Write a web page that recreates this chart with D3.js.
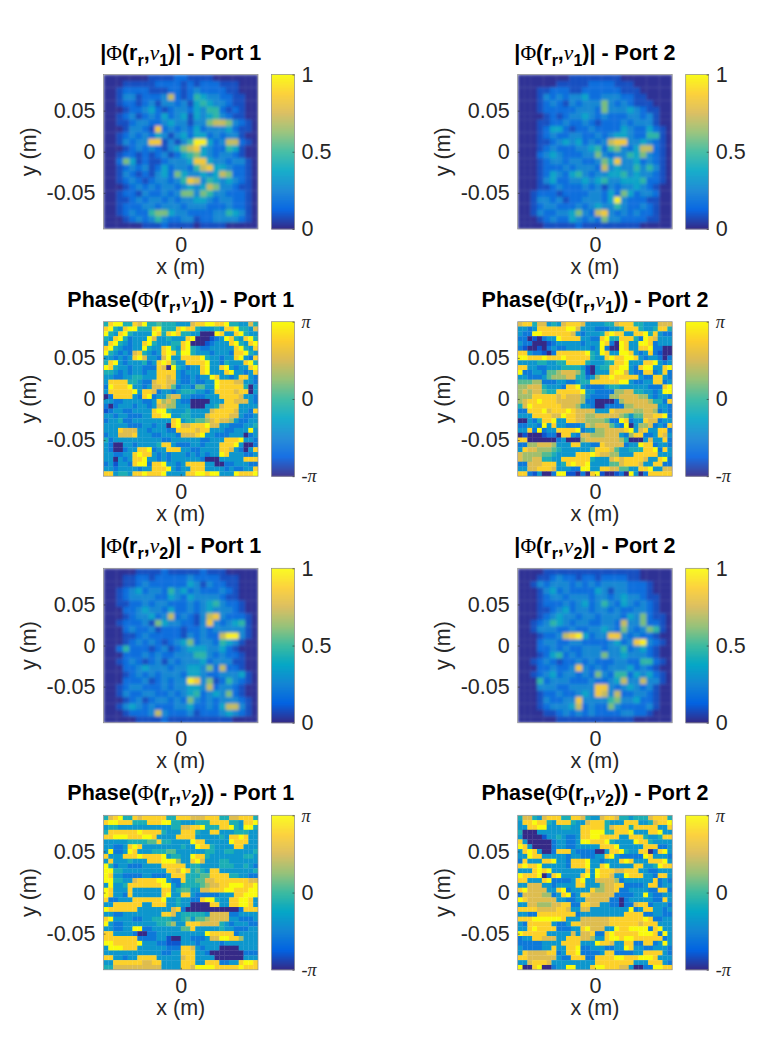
<!DOCTYPE html>
<html>
<head>
<meta charset="utf-8">
<script src="https://cdn.jsdelivr.net/npm/d3@7"></script>
<style>
  html,body{margin:0;padding:0;background:#fff;}
  svg{display:block;}
</style>
</head>
<body>
<div id="chart"></div>
<script>
// values, one digit per cell, 0 = bottom of the colorbar, 9 = top
const ampNu1Port1 = [
"000000011112211110000000","000111112222121222111000","001222211122123222211000","001331222372125433221100",
"001221231332314543321100","000122342123324355212100","001231232423414345321100","001123322343313367763210",
"000133218232324233342110","001232324313424423233100","001323388131359942377210","000123232134678432254100",
"001221212312456432332100","002641211233348843323310","001232312423325784432210","001321213426433434762210",
"001232123323587354343210","000123232332343476332110","001221322323663653322210","001123233232334432332210",
"001222332333233322232210","001232256643322223354310","000123235322331223333210","000000111211110111100000"];
const ampNu1Port2 = [
"000000001111111100000000","000000111112222111000000","000112221122222211100000","000132323342233322110000",
"000123213233363232111000","000122222333263334321100","000012123343232223323100","000112232232122232333100",
"000124421223222243224210","000123223322323443225510","000112343423237883343210","000123222334525632477210",
"000234322233632335463210","000123323322364833423210","000122232333273433535310","000124324532334453433210",
"000134223343453344452210","000112322232313233432100","001222122223324264233200","001332312233324932221100",
"001233222323433532232100","001322334632783232322100","000123224323263322221100","000011111211111111100000"];
const ampNu2Port1 = [
"000001111211111211100000","000112212222232222111000","000112322222243132211000","001234233253423222321000",
"001233332243243333211000","001122323322232345322100","000223433242232343332100","000123342372321378322210",
"001222316433221383234510","000232231222122323333310","000112322222132322799310","000123232123462332543100",
"002522212312344433421000","000222323223335532322100","001232123132333423331100","000223433323344362722100",
"000123232333244322333410","000222312323398361253210","001233222323344372332100","001322332232345234362100",
"000123123323263232333210","001343232223342232477310","000122237322231222343210","000001111211111111110000"];
const ampNu2Port2 = [
"000011111111111111100000","000112322122122221100000","001323332323233332221000","000134232222431332221000",
"000123323332332343321100","000122232342353243232100","000112342332332322332100","000123433233233324362110",
"001235432332233273362210","001333223223343263236510","000122378942338832322100","000233223322223423893210",
"000223232233323352342100","000124523233363343332100","001232122323222332255210","000223223832323334232100",
"001234233232632552434210","000523332223223473373310","000333223333883234323100","000122322343873722332100",
"000132233833335633422100","000123334723226322223100","000011232323222233221000","000000111111111111000000"];
const phaseNu1Port1 = [
"48994487944544433378899889443374","89438994448944489884333438894437","94389433339848984433000983389433","43894233397334333890001239843894",
"38943233894333448900012333894389","89432233943389438943223333389438","94323278432389849943332333288943","33232389733279338888943323389328",
"48932333423898533888893324333894","98433233222870943233893389323389","44323233233888832333893338933238","33223344333887832232339833238832",
"38888443227887732232233988877332","29888933237787523325533988888403","38888893887233234443323888878803","02888832892336773322233388887332",
"33223333223867632200003338877732","20233323323776633300033478883333","12332233338994333433337888873328","33233222338899334433378888773223",
"23342233333333893445567877632233","33333222332330897788897733222334","33387773323332288887883332233393","23377783332233327778933222333023",
"42333333333322333333223338889332","32003323333488322233233388893002","32002338892338883322333388732038","33223389883232333232323398333223",
"33032388933232333333200033333888","23133289928893323888833002233322","33233332338889323388833332322338","88344388988893333889989933398889"];
const phaseNu1Port2 = [
"78847734378887333344788844333777","33238888889973332223348884334884","32299888888732333489883388948322","22010233988883322894488842987333",
"32200012333332333982098339982333","21001023223333323920098338892200","88322102888888943983399832382100","99888988898888843389889983233202",
"33334433448888433344889333889323","88332233344443103448899328993389","92233255677764103338997322882382","33222356667744236889888883228832",
"55566222332234488888899322338823","66777433328893222234433333322289","67677544888889332222667744332399","66688888787776322226677776632332",
"67889888777776220000267777764428","47988888877763320022226677777332","22888978889877773338777766776232","33388887798877667777765355778892",
"00324889338877666652298233877233","22332938332223767775329036672328","33829233888892336677778937833882","01000122088327766677732688223873",
"88000000230006777777764000373382","22667776333883322877772339882332","38776665433333358887533444889283","76666554333388898776633388888333",
"76677443388888843337878888733892","22777888348988933335578887338822","33778887333229933887755338893377","88213002991102089100120930288888"];
const phaseNu2Port1 = [
"47894487888884488877788844778884","89988844488899443334448888443889","34433333333333447788944488943994","48888889888843338884338833344433",
"88999888998333388883333343889833","33333444455844333398833333988833","33223898333333334339884333388333","39223983334445533333344334433334",
"83338889888893443398843333333443","38333433388899963389733344333333","94233222333388888344333344433432","99443333333338879845438833333334",
"98332222332223888444558888443322","99443378888993228445577888888877","39334888888899324444567788999889","98333833333388345533778889988899",
"98332833333389338832222233388999","82233388888893343322899433889983","33888888338883343300008833889983","98888883333333782000000000002888",
"33223333333388734444437777223333","89333322334444334535567777332223","93223333333445633888777743233322","33223399223333335583333343322233",
"88333320022333333333398888823333","88888882222331003322237799886333","99888889333221113332333323333333","39998883333332228873233300003333",
"33333333333322338883320000000222","88332338888333337883333000000333","33888888778833338883388822338998","44777777777733338879999888889888"];
const phaseNu2Port2 = [
"47743788844887433788744344478884","38898843888433788843338883347889","33889933344338888847888488888338","40003333333338899944888933388933",
"30000133432238899888833888433488","83000002332239988894333398843333","98300002332233333888933333888223","38983002888322220038894338802893",
"33988333332332223389322222983332","28333889332888933233389833388893","89889333332888933893333388334988","33389893333333839888778883322333",
"98889028933338939887339888332883","88333892222389337777623333338232","33777332333388333677882222388233","89777733892333386677822333322882",
"27777662389238877777222233932233","98777777332233777772202333332283","33776667788228877332202278823332","88887777887337733333333923883323",
"33228888888823333333338888223322","88899999983337777778888888982233","32888883223887777778888887888333","33898888222338977733988999928933",
"98888833333737782289888889998293","23388777338887763389989988888823","22222333388883339887338822882393","32222338338892233322339833223332",
"38777788238892222388222233888832","88777777322888228888998889998333","33788873333333338888888833388832","90089002339933389988877300229988"];

const yTickValues = [0.05, 0, -0.05];
const xTickValues = [0];
const ampTicks = [0, 0.5, 1];
const phaseTicks = [-Math.PI, 0, Math.PI];
const parulaStops = ["#352a87","#0363e1","#1485d4","#06a7c6","#38b99e","#92bf73","#d9ba56","#fcce2e","#f9fb0e"];

const width = 772, height = 1042;
const colX = [103.5, 517.7];
const rowY = [74.5, 321.7, 568.3, 815.3];
const plotSize = 154.5;
const cbGap = 13.5, cbWidth = 23;

const panels = [
  {grid: ampNu1Port1,   kind:"amp",   nu:"1", port:1, c:0, r:0},
  {grid: ampNu1Port2,   kind:"amp",   nu:"1", port:2, c:1, r:0},
  {grid: phaseNu1Port1, kind:"phase", nu:"1", port:1, c:0, r:1},
  {grid: phaseNu1Port2, kind:"phase", nu:"1", port:2, c:1, r:1},
  {grid: ampNu2Port1,   kind:"amp",   nu:"2", port:1, c:0, r:2},
  {grid: ampNu2Port2,   kind:"amp",   nu:"2", port:2, c:1, r:2},
  {grid: phaseNu2Port1, kind:"phase", nu:"2", port:1, c:0, r:3},
  {grid: phaseNu2Port2, kind:"phase", nu:"2", port:2, c:1, r:3}
];

const parula = d3.scaleLinear()
  .domain(parulaStops.map((_,i)=> i/(parulaStops.length-1)))
  .range(parulaStops)
  .clamp(true);
// digit -> colorbar position, the steps are not even (the low end is what most cells sit in)
const ampScale = d3.scalePow().exponent(1.25).domain([0,9]).range([0.02,0.97]);
const phaseScale = d3.scalePow().exponent(1.05).domain([0,9]).range([0,1]);

const sans = "'Liberation Sans', Arial, sans-serif";
const serif = "'Liberation Serif', 'DejaVu Serif', serif";
const textCol = "#262626", boxCol = "#8a8a8a";
const fontSize = 21.5;

const svg = d3.select("#chart").append("svg")
  .attr("width", width).attr("height", height)
  .style("font-family", sans);

const defs = svg.append("defs");
defs.append("filter").attr("id","softAmp").attr("x",0).attr("y",0).attr("width",1).attr("height",1)
  .append("feGaussianBlur").attr("stdDeviation",1.7).attr("edgeMode","duplicate");
defs.append("filter").attr("id","softPhase").attr("x",0).attr("y",0).attr("width",1).attr("height",1)
  .append("feGaussianBlur").attr("stdDeviation",0.6).attr("edgeMode","duplicate");

function addTitle(g, d){
  const t = g.append("text")
    .attr("x", plotSize/2).attr("y", -15)
    .attr("text-anchor","middle")
    .attr("font-size", fontSize).attr("font-weight","bold").attr("fill","#000");
  const isAmp = d.kind === "amp";
  t.append("tspan").text(isAmp ? "|" : "Phase(");
  t.append("tspan").attr("font-family", serif).attr("font-weight","normal").text("Φ");
  t.append("tspan").text("(r");
  t.append("tspan").attr("font-size",16).attr("dy",6).text("r");
  t.append("tspan").attr("dy",-6).text(",");
  t.append("tspan").attr("font-family", serif).attr("font-style","italic").attr("font-weight","normal").text("ν");
  t.append("tspan").attr("font-size",16).attr("dy",6).text(d.nu);
  t.append("tspan").attr("dy",-6).text((isAmp ? ")|" : "))") + " - Port " + d.port);
}

panels.forEach((d,i)=>{
  const g = svg.append("g").attr("transform", `translate(${colX[d.c]},${rowY[d.r]})`);
  const n = d.grid.length;
  const x = d3.scaleBand().domain(d3.range(d.grid[0].length)).range([0, plotSize]);
  const yBand = d3.scaleBand().domain(d3.range(n)).range([0, plotSize]);
  const isAmp = d.kind === "amp";
  const toT = isAmp ? ampScale : phaseScale;

  const clipId = "clip"+i;
  defs.append("clipPath").attr("id",clipId).append("rect").attr("width",plotSize).attr("height",plotSize);

  const cells = [];
  d.grid.forEach((row,ri)=> row.split("").forEach((ch,ci)=> cells.push({ri,ci,v:+ch})));

  g.append("g").attr("clip-path",`url(#${clipId})`)
    .append("g").attr("filter", isAmp ? "url(#softAmp)" : "url(#softPhase)")
    .selectAll("rect").data(cells).join("rect")
      .attr("x", c=> x(c.ci)).attr("y", c=> yBand(c.ri))
      .attr("width", x.bandwidth()+0.3).attr("height", yBand.bandwidth()+0.3)
      .attr("fill", c=> parula(toT(c.v)));

  // axes, ticks point inward like the original
  const xs = d3.scaleLinear().domain([-0.094,0.094]).range([0,plotSize]);
  const ys = d3.scaleLinear().domain([-0.094,0.094]).range([plotSize,0]);

  const yAxis = g.append("g").call(d3.axisLeft(ys).tickValues(yTickValues).tickSize(-2).tickPadding(8)
    .tickFormat(v=> v===0 ? "0" : String(v)));
  const xAxis = g.append("g").attr("transform",`translate(0,${plotSize})`)
    .call(d3.axisBottom(xs).tickValues(xTickValues).tickSize(-2).tickFormat(()=> "0"));
  [yAxis,xAxis].forEach(a=>{
    a.select(".domain").remove();
    a.selectAll(".tick line").attr("stroke",textCol).attr("stroke-width",0.6);
    a.selectAll("text").attr("font-size",fontSize).attr("font-family",sans).attr("fill",textCol);
  });
  xAxis.selectAll("text").attr("y",8).attr("dy","0.71em");

  g.append("rect").attr("width",plotSize).attr("height",plotSize)
    .attr("fill","none").attr("stroke",boxCol).attr("stroke-width",0.7);

  g.append("text").attr("x",plotSize/2).attr("y",plotSize+45)
    .attr("text-anchor","middle").attr("font-size",fontSize).attr("fill",textCol).text("x (m)");
  g.append("text")
    .attr("transform",`translate(-68,${plotSize/2}) rotate(-90)`)
    .attr("text-anchor","middle").attr("font-size",fontSize).attr("fill",textCol).text("y (m)");

  addTitle(g,d);

  // colorbar
  const cb = g.append("g").attr("transform",`translate(${plotSize+cbGap},0)`);
  const cbDomain = isAmp ? [0,1] : [-Math.PI,Math.PI];
  const cbY = d3.scaleLinear().domain(cbDomain).range([plotSize,0]);
  const cbT = d3.scaleLinear().domain(cbDomain).range([0,1]);
  const nSteps = 155;
  const steps = d3.range(nSteps).map(k=> cbDomain[0] + (cbDomain[1]-cbDomain[0])*k/nSteps);
  const stepH = plotSize/nSteps;
  cb.selectAll("rect.step").data(steps).join("rect").attr("class","step")
    .attr("x",0).attr("width",cbWidth)
    .attr("y", v=> cbY(v)-stepH).attr("height",stepH+0.4)
    .attr("fill", v=> parula(cbT(v)));
  cb.append("rect").attr("width",cbWidth).attr("height",plotSize)
    .attr("fill","none").attr("stroke",boxCol).attr("stroke-width",0.7);

  const cbAxis = cb.append("g").attr("transform",`translate(${cbWidth},0)`)
    .call(d3.axisRight(cbY).tickValues(isAmp ? ampTicks : phaseTicks).tickSize(-2).tickPadding(7)
      .tickFormat(v=> isAmp ? String(v) : (v===0 ? "0" : (v<0 ? "-π" : "π"))));
  cbAxis.select(".domain").remove();
  cbAxis.selectAll(".tick line").attr("stroke",textCol).attr("stroke-width",0.6);
  cbAxis.selectAll("text").attr("font-size",fontSize).attr("font-family",sans).attr("fill",textCol);
  if(!isAmp){
    cbAxis.selectAll("text").filter(v=> v!==0)
      .attr("font-family",serif).attr("font-style","italic").attr("font-size",18);
  }
});
</script>
</body>
</html>
